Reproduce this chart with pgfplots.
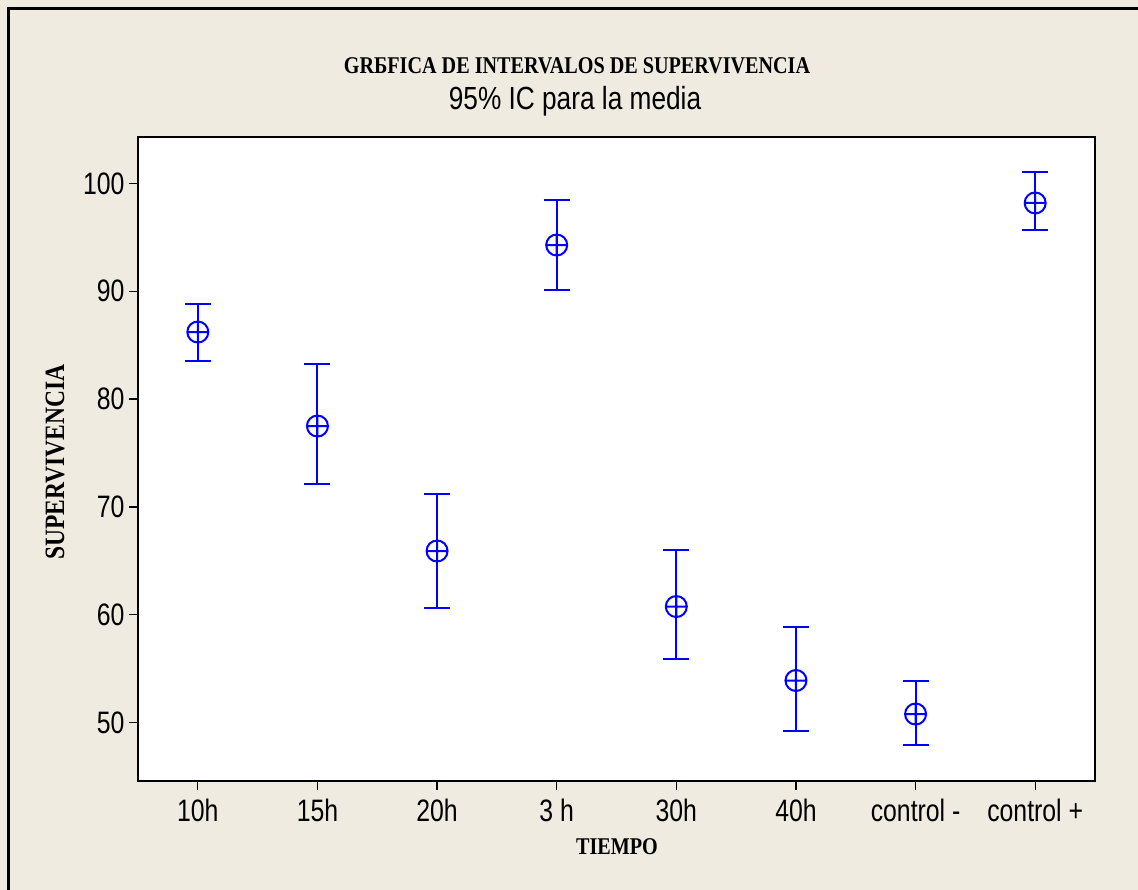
\documentclass[border=0pt]{standalone}
\usepackage{pgfplots}
\pgfplotsset{compat=1.18}
\usepackage{pgfplotstable}
\usepackage{fontspec}
\setmainfont{Liberation Sans}
\newfontfamily\ticksfont[FakeStretch=0.8]{Liberation Sans}
\newfontfamily\subfont[FakeStretch=0.82]{Liberation Sans}
\newfontfamily\titlefont[FakeStretch=0.84]{Liberation Serif}
\definecolor{bg}{RGB}{239,235,225}
\definecolor{mblue}{RGB}{0,0,255}

\pgfplotstableread{
x y ep em
0 86.22 2.60 2.69
1 77.50 5.75 5.38
2 65.91 5.29 5.24
3 94.29 4.18 4.17
4 60.76 5.29 4.82
5 53.90 5.00 4.70
6 50.79 3.06 2.88
7 98.19 2.88 2.50
}\data

\begin{document}
\begin{tikzpicture}[x=1pt,y=1pt]
\useasboundingbox (0,0) rectangle (1138,890);
\fill[bg] (0,0) rectangle (1138,890);
\draw[line width=2.5pt, black] (8.5,-20) -- (8.5,881.5) -- (1160,881.5);
\begin{axis}[scale only axis, width=957pt, height=644pt, at={(138pt,109pt)}, anchor=south west,
 xmin=-0.5, xmax=7.5, ymin=44.58, ymax=104.31,
 axis background/.style={fill=white},
 axis line style={line width=2pt},
 xtick={0,...,7}, xticklabels={10h,15h,20h,3 h,30h,40h,control -,control +},
 ytick={50,60,...,100},
 tick align=outside, tick style={black, line width=1.2pt}, major tick length=9pt,
 xtick pos=lower, ytick pos=left,
 tick label style={font=\fontsize{31}{33}\selectfont\ticksfont},
 xticklabel style={yshift=-6pt},
 yticklabel style={xshift=-1pt},
 /pgf/number format/assume math mode=true,
 clip=false,
]
\addplot[only marks, mark=oplus, mark size=10.5pt, mblue, line width=2pt,
  error bars/.cd, y dir=both, y explicit,
  error bar style={line width=2pt, mblue},
  error mark options={rotate=90, mblue, draw=mblue, mark size=13pt, line width=2pt}]
  table[x=x, y=y, y error plus=ep, y error minus=em] {\data};
\end{axis}
\node[font=\titlefont\bfseries\fontsize{24}{26}\selectfont] at (577, 824) {GRБFICA DE INTERVALOS DE SUPERVIVENCIA};
\node[font=\subfont\fontsize{32}{34}\selectfont] at (575, 789) {95\% IC para la media};
\node[rotate=90, font=\titlefont\bfseries\fontsize{28}{30}\selectfont] at (55, 428) {SUPERVIVENCIA};
\node[font=\titlefont\bfseries\fontsize{24}{26}\selectfont] at (617, 43) {TIEMPO};
\end{tikzpicture}
\end{document}
